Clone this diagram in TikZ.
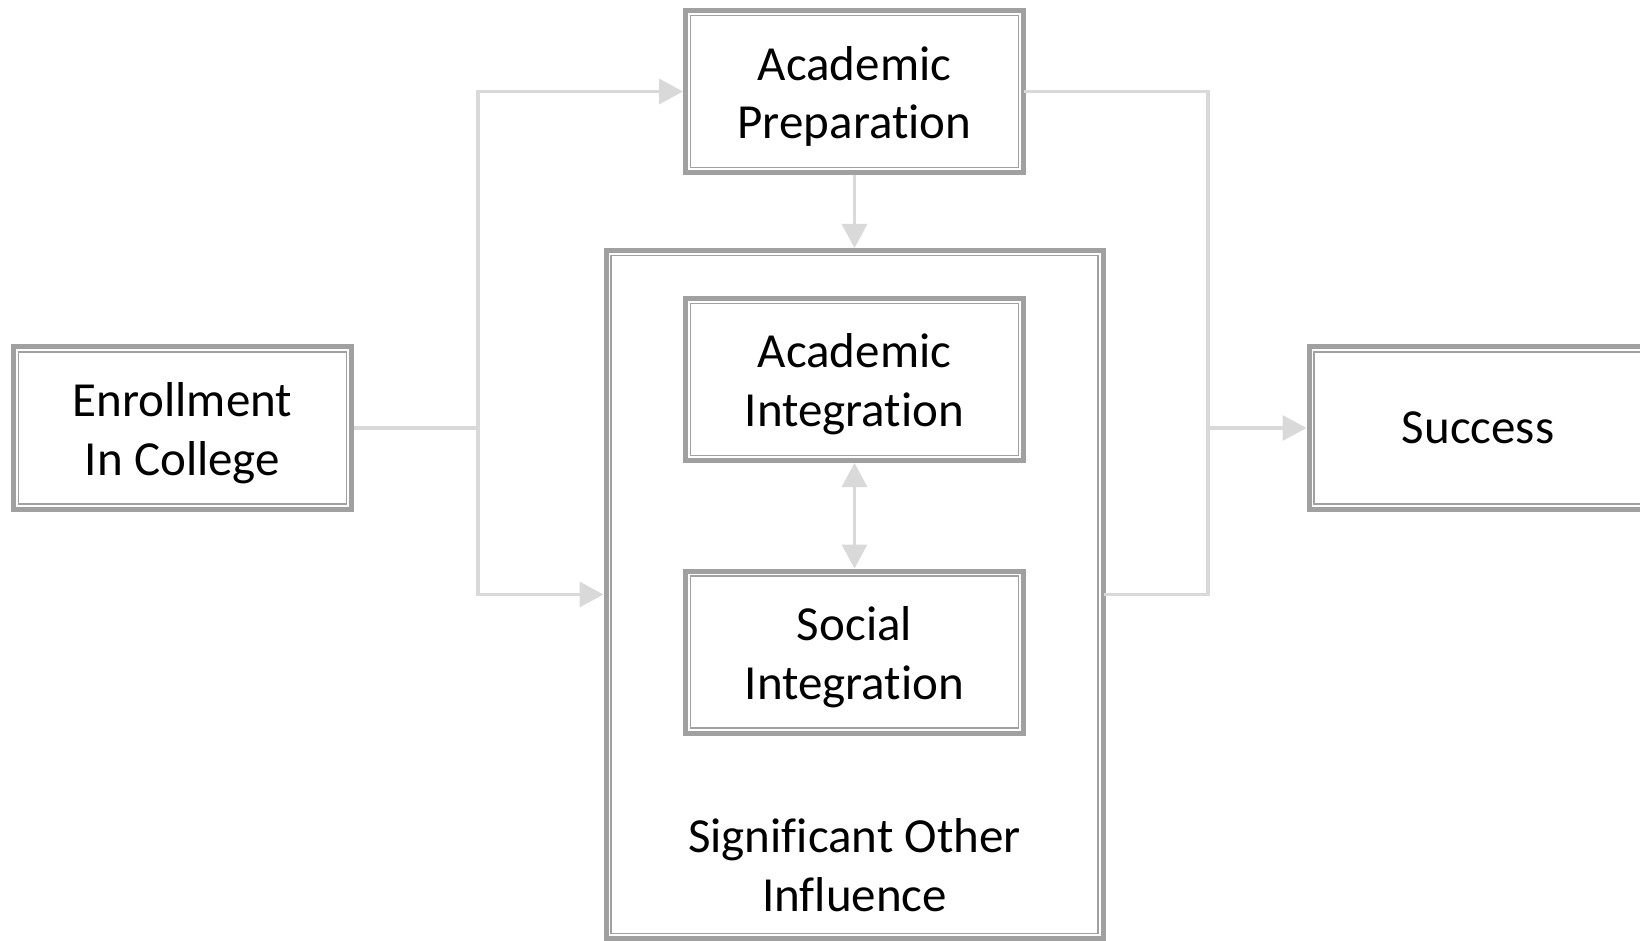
\documentclass[tikz,border=0pt]{standalone}
\usepackage{fontspec}
\setmainfont[Ligatures={NoCommon}]{Carlito}
\usetikzlibrary{arrows.meta}
\definecolor{bordgray}{HTML}{A0A0A0}
\definecolor{linkgray}{HTML}{D9D9D9}
\begin{document}
\begin{tikzpicture}[x=0.5pt,y=-0.5pt,
  box/.style={draw=bordgray, line width=2.5pt, fill=white, inner sep=0pt,
    minimum width=169pt, minimum height=81pt, align=center,
    font=\fontsize{24.5}{29.3}\selectfont},
  innerline/.style={draw=bordgray, line width=0.75pt},
  link/.style={draw=linkgray, line width=1.75pt},
  arr/.style={link, -{Triangle[length=12pt,width=12.5pt]}},
  dblarr/.style={link, {Triangle[length=12pt,width=12.5pt]}-{Triangle[length=12pt,width=12.5pt]}},
  lbl/.style={align=center, inner sep=0pt, font=\fontsize{24.5}{29.3}\selectfont},
  two/.style={label={[lbl,yshift=-2.5pt]center:{#1}}}
]
\useasboundingbox (0,0) rectangle (1640,941);
\clip (0,0) rectangle (1640,941);

\node[box, two={Enrollment\\In College}] (enr) at (182.5,428) {};
\node[box, two={Academic\\Preparation}] (ap) at (854.5,91.5) {};
\node[box, minimum width=248.5pt, minimum height=344pt] (big) at (854.5,594.5) {};
\node[box, two={Academic\\Integration}] (ai) at (854.5,379.5) {};
\node[box, two={Social\\Integration}] (si) at (854.5,652) {};
\node[box] (suc) at (1478,428) {Success};
\node[lbl] (sig) at (854.5,865) {Significant Other\\Influence};

\foreach \n in {enr,ap,big,ai,si,suc}
  \draw[innerline] ([shift={(3.7pt,-3.7pt)}]\n.north west) rectangle ([shift={(-3.7pt,3.7pt)}]\n.south east);

\coordinate (lx) at (478,0);
\coordinate (rx) at (1208,0);

\draw[link] (enr.east) -- (enr.east -| lx);
\draw[link, line cap=rect] (ap.west -| lx) -- (big.west -| lx);
\draw[arr] (ap.west -| lx) -- (ap.west);
\draw[arr] (big.west -| lx) -- (big.west);
\draw[link, line cap=rect] (ap.east) -| (big.east -| rx) -- (big.east);
\draw[arr] (suc.west -| rx) -- (suc.west);
\draw[arr] (ap.south) -- (big.north);
\draw[dblarr] (ai.south) -- (si.north);
\end{tikzpicture}
\end{document}
